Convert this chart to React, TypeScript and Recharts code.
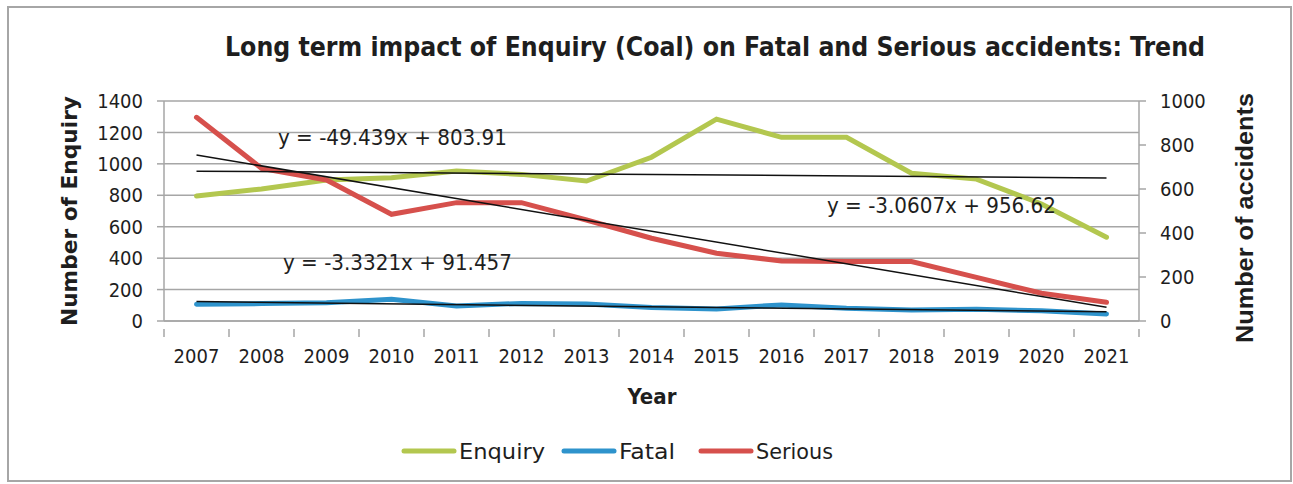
import { LineChart, Line, XAxis, YAxis, CartesianGrid } from 'recharts'

const years = [2007, 2008, 2009, 2010, 2011, 2012, 2013, 2014, 2015, 2016, 2017, 2018, 2019, 2020, 2021]
const enquiry = [795, 840, 897, 912, 955, 933, 891, 1042, 1285, 1169, 1169, 940, 903, 745, 533]
const fatal = [76, 79, 83, 99, 68, 80, 77, 61, 55, 73, 58, 50, 53, 47, 32]
const serious = [926, 694, 641, 485, 538, 538, 459, 376, 308, 273, 270, 270, 198, 126, 85]

// trendline end points (first year, last year)
const enquiryTrend = [953.6, 910.7]
const fatalTrend = [88.1, 41.5]
const seriousTrend = [754.5, 62.3]

const leftTicks = [0, 200, 400, 600, 800, 1000, 1200, 1400]
const rightTicks = [0, 200, 400, 600, 800, 1000]

const GREEN = '#b3c74f'
const BLUE = '#2e93cc'
const RED = '#d6504c'
const GRID = '#a6a6a6'
const TEXT = '#1e1e1e'
const FONT = '"DejaVu Sans Condensed", "DejaVu Sans", sans-serif'

const last = years.length - 1
const data = years.map((year, i) => ({
  year: String(year),
  enquiry: enquiry[i],
  fatal: fatal[i],
  serious: serious[i],
  enquiryTrend: i === 0 ? enquiryTrend[0] : i === last ? enquiryTrend[1] : null,
  fatalTrend: i === 0 ? fatalTrend[0] : i === last ? fatalTrend[1] : null,
  seriousTrend: i === 0 ? seriousTrend[0] : i === last ? seriousTrend[1] : null,
}))

const HALF_BAND = 975 / years.length / 2

function YearTick(props: any) {
  const { x, y, index } = props
  return (
    <g>
      <line x1={x - HALF_BAND} x2={x - HALF_BAND} y1={y} y2={y + 8} stroke={GRID} strokeWidth={1.5} />
      {index === last && (
        <line x1={x + HALF_BAND} x2={x + HALF_BAND} y1={y} y2={y + 8} stroke={GRID} strokeWidth={1.5} />
      )}
      <text x={x} y={y + 34} textAnchor="middle" fontFamily={FONT} fontSize={20} fill={TEXT}>
        {props.payload.value}
      </text>
    </g>
  )
}

const legendItems = [
  { name: 'Enquiry', color: GREEN, x1: 404, textX: 459, len: 86 },
  { name: 'Fatal', color: BLUE, x1: 564, textX: 619, len: 56 },
  { name: 'Serious', color: RED, x1: 701, textX: 756, len: 77 },
]

export default function App() {
  return (
    <div style={{ position: 'absolute', left: 0, top: 0, width: 1293, height: 484, background: '#fff' }}>
      <LineChart
        width={1293}
        height={484}
        data={data}
        margin={{ top: 101, right: 94, left: 104, bottom: 133 }}
      >
        <CartesianGrid yAxisId="left" vertical={false} stroke={GRID} strokeWidth={1.5} />
        <XAxis
          dataKey="year"
          scale="band"
          height={30}
          axisLine={{ stroke: GRID, strokeWidth: 1.5 }}
          tickLine={false}
          tick={<YearTick />}
          interval={0}
        />
        <YAxis
          yAxisId="left"
          width={60}
          domain={[0, 1400]}
          ticks={leftTicks}
          interval={0}
          axisLine={{ stroke: GRID, strokeWidth: 1.5 }}
          tickLine={{ stroke: GRID, strokeWidth: 1.5 }}
          tickSize={7}
          tickMargin={14}
          tick={{ fontFamily: FONT, fontSize: 20, fill: TEXT }}
        />
        <YAxis
          yAxisId="right"
          orientation="right"
          width={60}
          domain={[0, 1000]}
          ticks={rightTicks}
          interval={0}
          axisLine={{ stroke: GRID, strokeWidth: 1.5 }}
          tickLine={{ stroke: GRID, strokeWidth: 1.5 }}
          tickSize={7}
          tickMargin={14}
          tick={{ fontFamily: FONT, fontSize: 20, fill: TEXT, textAnchor: 'start' }}
        />
        <Line yAxisId="left" dataKey="enquiry" stroke={GREEN} strokeWidth={5} dot={false} strokeLinecap="round" isAnimationActive={false} />
        <Line yAxisId="right" dataKey="fatal" stroke={BLUE} strokeWidth={5} dot={false} strokeLinecap="round" isAnimationActive={false} />
        <Line yAxisId="right" dataKey="serious" stroke={RED} strokeWidth={5} dot={false} strokeLinecap="round" isAnimationActive={false} />
        <Line yAxisId="left" dataKey="enquiryTrend" stroke="#111" strokeWidth={1.5} dot={false} connectNulls isAnimationActive={false} />
        <Line yAxisId="right" dataKey="fatalTrend" stroke="#111" strokeWidth={1.5} dot={false} connectNulls isAnimationActive={false} />
        <Line yAxisId="right" dataKey="seriousTrend" stroke="#111" strokeWidth={1.5} dot={false} connectNulls isAnimationActive={false} />
      </LineChart>

      <svg width={1293} height={484} style={{ position: 'absolute', left: 0, top: 0, pointerEvents: 'none' }}>
        <rect x={8} y={7} width={1283} height={474} fill="none" stroke="#a6a6a6" strokeWidth={2} />
        <text x={225} y={56} fontFamily={FONT} fontWeight="bold" fontSize={27} fill={TEXT} textLength={980} lengthAdjust="spacingAndGlyphs">
          Long term impact of Enquiry (Coal) on Fatal and Serious accidents: Trend
        </text>
        <text transform="translate(77,211) rotate(-90)" textAnchor="middle" fontFamily='"DejaVu Sans", sans-serif' fontWeight="bold" fontSize={21} fill={TEXT} textLength={230} lengthAdjust="spacingAndGlyphs">
          Number of Enquiry
        </text>
        <text transform="translate(1253,218) rotate(-90)" textAnchor="middle" fontFamily='"Liberation Sans", Arial, sans-serif' fontWeight="bold" fontSize={24} fill={TEXT} textLength={250} lengthAdjust="spacingAndGlyphs">
          Number of accidents
        </text>
        <text x={652} y={404} textAnchor="middle" fontFamily={FONT} fontWeight="bold" fontSize={22} fill={TEXT}>
          Year
        </text>
        <text x={278} y={145} fontFamily={FONT} fontSize={21} fill={TEXT} textLength={229} lengthAdjust="spacingAndGlyphs">
          y = -49.439x + 803.91
        </text>
        <text x={283} y={270} fontFamily={FONT} fontSize={21} fill={TEXT} textLength={229} lengthAdjust="spacingAndGlyphs">
          y = -3.3321x + 91.457
        </text>
        <text x={827} y={213} fontFamily={FONT} fontSize={21} fill={TEXT} textLength={229} lengthAdjust="spacingAndGlyphs">
          y = -3.0607x + 956.62
        </text>
        {legendItems.map((it) => (
          <g key={it.name}>
            <line x1={it.x1} x2={it.x1 + 50} y1={451} y2={451} stroke={it.color} strokeWidth={5} strokeLinecap="round" />
            <text x={it.textX} y={459} fontFamily={FONT} fontSize={22} fill={TEXT} textLength={it.len} lengthAdjust="spacingAndGlyphs">
              {it.name}
            </text>
          </g>
        ))}
      </svg>
    </div>
  )
}
